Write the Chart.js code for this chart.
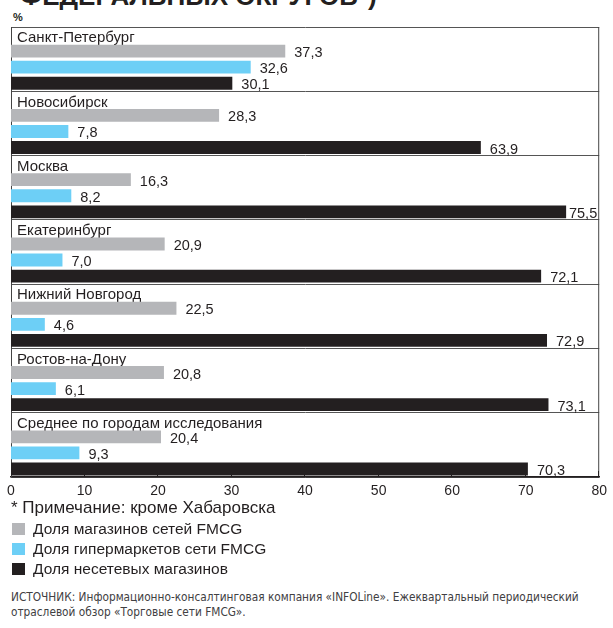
<!DOCTYPE html>
<html>
<head>
<meta charset="utf-8">
<script src="https://cdn.jsdelivr.net/npm/chart.js@4.4.1/dist/chart.umd.min.js"></script>
<style>
  html, body { margin: 0; padding: 0; background: #fff; }
  body { width: 613px; height: 628px; position: relative; overflow: hidden;
         font-family: "Liberation Sans", Arial, sans-serif; color: #231f20; }
  .abs { position: absolute; white-space: nowrap; }
  #title { left: 20px; top: -17px; font-size: 26px; line-height: 26px; font-weight: bold; }
  #unit { left: 13px; top: 12px; font-size: 11px; line-height: 11px; font-weight: bold; }
  #chartBox { left: 0; top: 0; width: 613px; height: 500px; }
  #note { left: 11px; top: 499px; font-size: 17px; line-height: 17px; }
  .leg { left: 12px; font-size: 15.5px; line-height: 15.5px; }
  .leg i { position: absolute; left: 0; top: 2px; width: 13px; height: 12px; }
  .leg span { position: absolute; left: 21px; top: 0; }
  #source { left: 11px; top: 590px; font-size: 11.75px; line-height: 15px; color: #414042;
            font-family: "Liberation Sans Narrow", "Arial Narrow", "DejaVu Sans Condensed", sans-serif; }
</style>
</head>
<body>
<div id="title" class="abs">ФЕДЕРАЛЬНЫХ ОКРУГОВ*)</div>
<div id="unit" class="abs">%</div>
<div id="chartBox" class="abs"><canvas id="retailChart"></canvas></div>
<div id="note" class="abs">* Примечание: кроме Хабаровска</div>
<div id="legend"></div>
<div id="source" class="abs">ИСТОЧНИК: Информационно-консалтинговая компания «INFOLine». Ежеквартальный периодический<br>отраслевой обзор «Торговые сети FMCG».</div>

<script>
const cities = [
    'Санкт-Петербург',
    'Новосибирск',
    'Москва',
    'Екатеринбург',
    'Нижний Новгород',
    'Ростов-на-Дону',
    'Среднее по городам исследования'
];
const chainShare = [37.3, 28.3, 16.3, 20.9, 22.5, 20.8, 20.4];
const hyperShare = [32.6, 7.8, 8.2, 7.0, 4.6, 6.1, 9.3];
const independentShare = [30.1, 63.9, 75.5, 72.1, 72.9, 73.1, 70.3];
const seriesNames = [
    'Доля магазинов сетей FMCG',
    'Доля гипермаркетов сети FMCG',
    'Доля несетевых магазинов'
];
const seriesColors = ['#b5b6b9', '#6dcff6', '#231f20'];
const xTicks = [0, 10, 20, 30, 40, 50, 60, 70, 80];

const inkColor = '#231f20';

// legend below the chart, built from the series arrays
const legendBox = document.getElementById('legend');
seriesNames.forEach((name, i) => {
    const row = document.createElement('div');
    row.className = 'abs leg';
    row.style.top = (521 + i * 20) + 'px';
    row.innerHTML = '<i style="background:' + seriesColors[i] + '"></i><span>' + name + '</span>';
    legendBox.appendChild(row);
});

// frame on the right and small inward ticks on the x axis
const framePlugin = {
    id: 'framePlugin',
    afterDraw(chart) {
        const {ctx, chartArea} = chart;
        const xScale = chart.scales.x;
        ctx.save();
        ctx.strokeStyle = '#444';
        ctx.lineWidth = 1;
        ctx.beginPath();
        ctx.moveTo(chartArea.right - 0.5, chartArea.top);
        ctx.lineTo(chartArea.right - 0.5, chartArea.bottom);
        ctx.stroke();
        ctx.strokeStyle = inkColor;
        xTicks.forEach(t => {
            if (t === 0) return;
            const px = Math.round(xScale.getPixelForValue(t)) - 0.5;
            ctx.beginPath();
            ctx.moveTo(px, chartArea.bottom - 6);
            ctx.lineTo(px, chartArea.bottom);
            ctx.stroke();
        });
        ctx.restore();
    }
};

// values printed to the right of each bar
const valuePlugin = {
    id: 'valuePlugin',
    afterDatasetsDraw(chart) {
        const {ctx, chartArea} = chart;
        ctx.save();
        ctx.font = '14.5px "Liberation Sans", Arial, sans-serif';
        ctx.fillStyle = inkColor;
        ctx.textBaseline = 'middle';
        ctx.textAlign = 'left';
        chart.data.datasets.forEach((ds, di) => {
            if (!ds.showValues) return;
            chart.getDatasetMeta(di).data.forEach((bar, i) => {
                const text = ds.data[i].toFixed(1).replace('.', ',');
                const w = ctx.measureText(text).width;
                let x = bar.x + 9;
                if (x + w > chartArea.right - 2) x = chartArea.right - 2 - w;
                ctx.fillText(text, x, bar.y + 2);
            });
        });
        ctx.restore();
    }
};

const seriesData = [chainShare, hyperShare, independentShare];
const datasets = [
    // empty slot at the top of every group, keeps room for the city name
    { label: '', data: [], showValues: false }
].concat(seriesData.map((values, i) => ({
    label: seriesNames[i],
    data: values,
    backgroundColor: seriesColors[i],
    borderWidth: 0,
    showValues: true
})));

new Chart(document.getElementById('retailChart'), {
    type: 'bar',
    data: { labels: cities, datasets: datasets },
    options: {
        indexAxis: 'y',
        responsive: true,
        maintainAspectRatio: false,
        animation: false,
        categoryPercentage: 1.0,
        barPercentage: 0.8,
        layout: { padding: { top: 27, left: 11, right: 10, bottom: 3 } },
        plugins: {
            legend: { display: false },
            tooltip: { enabled: false }
        },
        scales: {
            x: {
                min: 0,
                max: 80,
                afterFit: s => { s.height = 20; },
                afterBuildTicks: s => { s.ticks = xTicks.map(v => ({ value: v })); },
                grid: { display: false, drawTicks: false },
                border: { display: true, color: inkColor, width: 1.5 },
                ticks: {
                    padding: 6,
                    color: inkColor,
                    font: { family: '"Liberation Sans", Arial, sans-serif', size: 14 }
                }
            },
            y: {
                afterFit: s => { s.width = 0; },
                grid: { offset: true, color: '#555', lineWidth: 1, drawTicks: false },
                border: { display: true, color: '#444', width: 1 },
                ticks: {
                    mirror: true,
                    padding: 6,
                    labelOffset: -21,
                    color: inkColor,
                    font: { family: '"Liberation Sans", Arial, sans-serif', size: 15 }
                }
            }
        }
    },
    plugins: [framePlugin, valuePlugin]
});
</script>
</body>
</html>
